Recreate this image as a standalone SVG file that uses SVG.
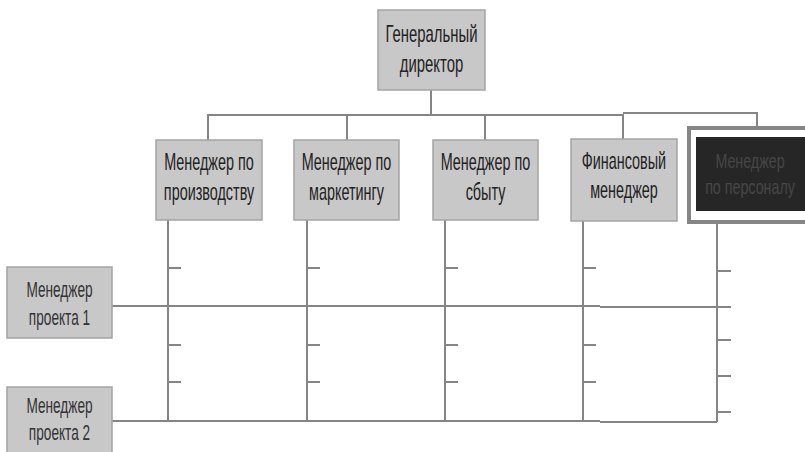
<svg xmlns="http://www.w3.org/2000/svg" width="805" height="452" viewBox="0 0 805 452">
<style>
  .box{fill:#c8c8c8;stroke:#a4a4a4;stroke-width:1.5}
  .t{font-family:"Liberation Sans",Arial,sans-serif;font-size:24px;fill:#222222;text-anchor:middle}
  .ts{font-family:"Liberation Sans",Arial,sans-serif;font-size:22px;fill:#333333;text-anchor:middle}
  .tp{font-family:"Liberation Sans",Arial,sans-serif;font-size:21px;fill:#474747;text-anchor:middle}
  .ln{fill:none;stroke:#858585;stroke-width:2}
</style>
<rect width="805" height="452" fill="#ffffff"/>
<g id="connectors" class="ln">
  <path d="M431 90V115M208 140V115H623V139M347 115V140M485 115V140"/>
  <path d="M623 113H757V137"/>
  <path d="M168 220V421M307 220V421M445 220V421M583 221V421M717 211V422"/>
  <path d="M168 268h13M168 306h13M168 345h13M168 382h13"/>
  <path d="M307 268h13M307 306h13M307 345h13M307 382h13"/>
  <path d="M445 268h13M445 306h13M445 345h13M445 382h13"/>
  <path d="M583 268h13M583 306h13M583 345h13M583 382h13"/>
  <path d="M717 271h14M717 307h14M717 340h14M717 376h14M717 412h14"/>
  <path d="M112 306H600M600 307H717"/>
  <path d="M112 421H600M600 422H717"/>
</g>
<g id="ceo">
  <rect class="box" x="378" y="10" width="107" height="80"/>
  <text class="t" transform="translate(431.5 42) scale(0.62 1)">Генеральный</text>
  <text class="t" transform="translate(431.5 72) scale(0.62 1)">директор</text>
</g>
<g id="production">
  <rect class="box" x="156" y="140" width="106" height="80"/>
  <text class="t" transform="translate(209 170) scale(0.6 1)">Менеджер по</text>
  <text class="t" transform="translate(209 200) scale(0.6 1)">производству</text>
</g>
<g id="marketing">
  <rect class="box" x="294" y="140" width="105" height="80"/>
  <text class="t" transform="translate(346.5 170) scale(0.6 1)">Менеджер по</text>
  <text class="t" transform="translate(346.5 200) scale(0.6 1)">маркетингу</text>
</g>
<g id="sales">
  <rect class="box" x="433" y="140" width="105" height="80"/>
  <text class="t" transform="translate(485.5 170) scale(0.6 1)">Менеджер по</text>
  <text class="t" transform="translate(485.5 200) scale(0.6 1)">сбыту</text>
</g>
<g id="finance">
  <rect class="box" x="571" y="139" width="106" height="82"/>
  <text class="t" transform="translate(624 169) scale(0.6 1)">Финансовый</text>
  <text class="t" transform="translate(624 198) scale(0.6 1)">менеджер</text>
</g>
<g id="personnel">
  <rect x="689" y="128" width="122" height="94" fill="#ffffff" stroke="#858585" stroke-width="4"/>
  <rect x="696" y="137" width="115" height="74" fill="#262626"/>
  <text class="tp" transform="translate(750 168) scale(0.68 1)">Менеджер</text>
  <text class="tp" transform="translate(750 194) scale(0.68 1)">по персоналу</text>
</g>
<g id="project1">
  <rect class="box" x="7" y="267" width="105" height="71"/>
  <text class="ts" transform="translate(59.5 297) scale(0.62 1)">Менеджер</text>
  <text class="ts" transform="translate(59.5 325) scale(0.62 1)">проекта 1</text>
</g>
<g id="project2">
  <rect class="box" x="7" y="387" width="105" height="80"/>
  <text class="ts" transform="translate(59.5 413) scale(0.62 1)">Менеджер</text>
  <text class="ts" transform="translate(59.5 440) scale(0.62 1)">проекта 2</text>
</g>
</svg>
